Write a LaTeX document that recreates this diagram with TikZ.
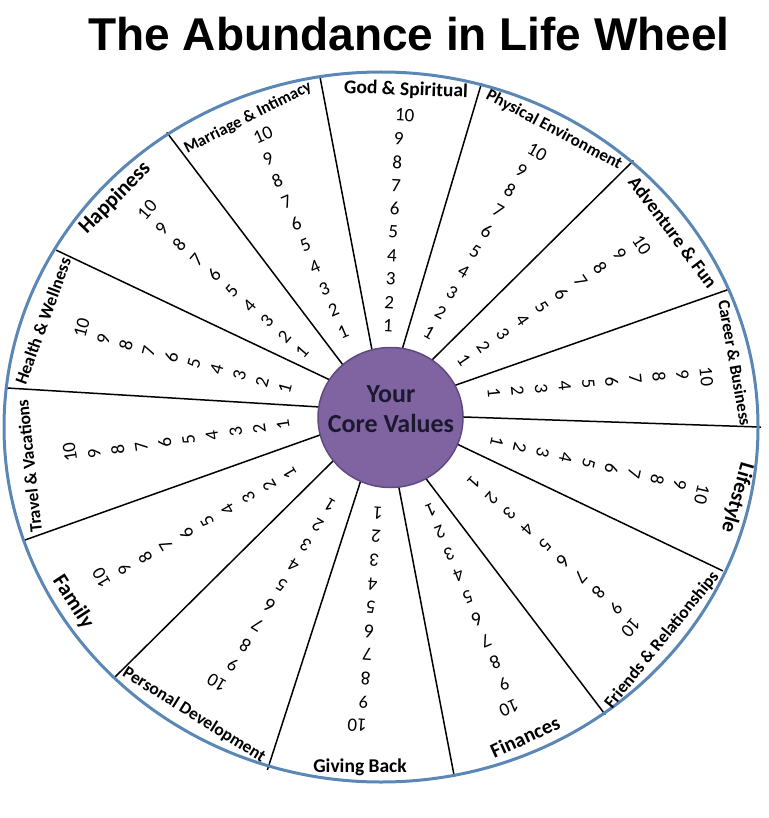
\documentclass[tikz,border=0pt]{standalone}
\usepackage{fontspec}
\setmainfont{Carlito}
\newfontfamily\titlefont{Liberation Sans}
\usetikzlibrary{calc}

\definecolor{aro}{HTML}{5B87B6}
\definecolor{morado}{HTML}{8064A2}
\definecolor{moradoborde}{HTML}{5E4A80}
\definecolor{tinta}{HTML}{1C1830}

\tikzset{
  radio/.style={line width=1.5pt, shorten <=-5pt, shorten >=-2pt},
  cifra/.style={font=\fontsize{19}{19}\selectfont, text=black, inner sep=0pt},
  centro/.style={font=\bfseries\fontsize{26}{26}\selectfont, text=tinta, anchor=base},
}

\begin{document}
\begin{tikzpicture}[x=1pt,y=-1pt]
    \useasboundingbox (0,0) rectangle (768,818);

    \node[font=\titlefont\bfseries\fontsize{46}{46}\selectfont, anchor=base] (titulo) at (409,51) {The Abundance in Life Wheel};

    % radios
    \foreach \ox/\oy/\ix/\iy [count=\r] in {320/77/372/350, 168/134/343/365, 58/251/330/380, 7/388/320/407,
        25/540/320/435, 115/677/332/462, 268/768/360/483, 454/775/399/488, 604/713/427/480,
        721/570/459/445, 759/427/464/417, 727/290/456/385, 632/162/434/358, 481/85/402/350}{
        \coordinate (o\r) at (\ox,\oy);
        \coordinate (i\r) at (\ix,\iy);
        \draw[radio] (i\r) -- (o\r);
    }

    \draw[aro, line width=3pt] (381,427) ellipse [x radius=377, y radius=355];
    \fill[morado, draw=moradoborde, line width=1.5pt] (390.5,417.5) ellipse [x radius=72.5, y radius=70];

    \node[centro] (your) at (391,402) {Your};
    \node[centro] (valores) at (391,432) {Core Values};

    % numeros 1 a 10
    \foreach \ax/\ay/\bx/\by [count=\s] in {388/326/400/115, 429/333/533/150, 464/360/639/241,
        494/393/706/372, 497/442/703/490, 474/482/634/624, 431/510/513.5/706, 378/513/362/725.5,
        330/505/221/685, 290/473/104/582, 283/425/70.6/457, 285/388/80.6/332.6,
        302/352/144/213.5, 343/332/258.6/137}{
        \pgfmathsetmacro\giro{atan2(\ay-\by,\bx-\ax)-90}
        \foreach \k in {1,...,10}{
            \node[cifra, rotate=\giro] (c\s-\k) at ($(\ax,\ay)!{(\k-1)/9}!(\bx,\by)$)
                {\ifnum\k=10 1\rlap{0}\else\k\fi};
        }
    }

    % etiquetas
    \foreach \x/\y/\a/\f/\t [count=\e] in {406/90/-2/19.5/{God \& Spiritual},
        554/130/-28/17/{Physical Environment}, 673/232/-53/19/{Adventure \& Fun},
        735/363/-80/17/{Career \& Business}, 737/498/-106/21/{Lifestyle},
        662/640/51/17.5/{Friends \& Relationships}, 525/737/24.5/20.5/{Finances},
        360/767/0/19.5/{Giving Back}, 194/715/-32/17.5/{Personal Development},
        73/602/-57/21.5/{Family}, 29/466/96/17.5/{Travel \& Vacations},
        43/321/70/17.5/{Health \& Wellness}, 115/198/45.5/21.5/{Happiness},
        248/118/27/16.5/{Marriage \& Intimacy}}{
        \node[inner sep=0pt, rotate=\a, font=\bfseries\fontsize{\f}{\f}\selectfont] (e\e) at (\x,\y) {\t};
    }

\end{tikzpicture}
\end{document}
